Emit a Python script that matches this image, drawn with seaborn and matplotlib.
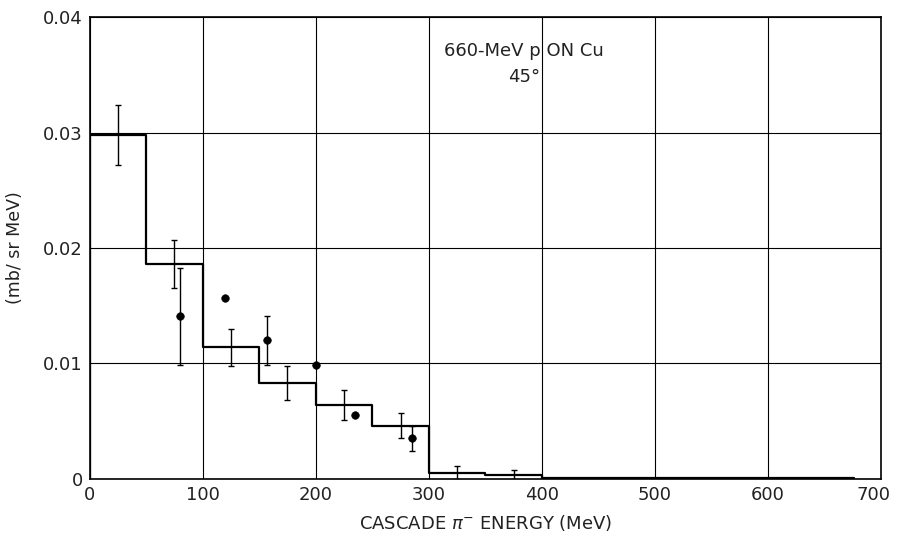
import matplotlib
matplotlib.use("Agg")
import matplotlib.pyplot as plt
import matplotlib.transforms as mtransforms
import seaborn as sns
import numpy as np
import pandas as pd

# Calculated cascade histogram (bin edges in MeV, heights in mb/sr MeV)
bin_edges = [0, 50, 100, 150, 200, 250, 300, 350, 400, 676]
bin_heights = [0.0298, 0.0186, 0.0114, 0.0083, 0.0064, 0.0046, 0.0005, 0.0003, 0.0001]

# Statistical error bars on the histogram (at bin centers)
hist_err_x = [25, 75, 125, 175, 225, 275, 325, 375]
hist_err_y = [0.0298, 0.0186, 0.0114, 0.0083, 0.0064, 0.0046, 0.0005, 0.0003]
hist_err = [0.0026, 0.0021, 0.0016, 0.0015, 0.0013, 0.0011, 0.0006, 0.0005]

# Experimental points
exp_x = [80, 120, 157, 200, 235, 285]
exp_y = [0.0141, 0.0157, 0.0120, 0.0099, 0.0055, 0.0035]
exp_err = [0.0042, 0.0, 0.0021, 0.0, 0.0, 0.00105]

x_ticks = [0, 100, 200, 300, 400, 500, 600, 700]
y_ticks = [0, 0.01, 0.02, 0.03, 0.04]
y_tick_labels = ["0", "0.01", "0.02", "0.03", "0.04"]

sns.set_style("white")
plt.rcParams["font.family"] = ["DejaVu Sans"]

fig = plt.figure(figsize=(8.97, 5.38), dpi=100)
ax = fig.add_axes([0.100, 0.110, 0.882, 0.858])

# Step histogram
step_df = pd.DataFrame({"E": bin_edges, "v": bin_heights + [bin_heights[-1]]})
sns.lineplot(data=step_df, x="E", y="v", drawstyle="steps-post", color="black",
             linewidth=1.6, ax=ax, zorder=3)
# vertical rise at x=0
ax.vlines(bin_edges[0], 0, bin_heights[0], color="black", linewidth=1.6, zorder=3)

# Histogram error bars
ax.errorbar(hist_err_x, hist_err_y, yerr=hist_err, fmt="none", ecolor="black",
            elinewidth=1.0, capsize=2.5, capthick=1.0, zorder=4)

# Experimental points
exp_df = pd.DataFrame({"E": exp_x, "v": exp_y})
sns.scatterplot(data=exp_df, x="E", y="v", color="black", s=30, edgecolor="black",
                ax=ax, zorder=5)
err_idx = [i for i, e in enumerate(exp_err) if e > 0]
ax.errorbar([exp_x[i] for i in err_idx], [exp_y[i] for i in err_idx],
            yerr=[exp_err[i] for i in err_idx], fmt="none", ecolor="black",
            elinewidth=1.0, capsize=2.5, capthick=1.0, zorder=4)

ax.set_xlim(0, 700)
ax.set_ylim(0, 0.04)
ax.set_xticks(x_ticks)
ax.set_yticks(y_ticks)
ax.set_yticklabels(y_tick_labels)
ax.grid(True, color="black", linewidth=0.8)
ax.set_axisbelow(True)
ax.tick_params(length=0, labelsize=13, pad=5, colors="#222222")
for s in ax.spines.values():
    s.set_color("black")
    s.set_linewidth(1.2)

# nudge the last x tick label left so it stays inside the figure
last = ax.get_xticklabels()[-1]
last.set_transform(last.get_transform() +
                   mtransforms.ScaledTranslation(-0.07, 0, fig.dpi_scale_trans))

ax.set_xlabel("CASCADE $\\pi^{-}$ ENERGY (MeV)", fontsize=13, labelpad=7, color="#222222")
ax.set_ylabel("(mb/ sr MeV)", fontsize=12.5, labelpad=14, color="#222222")

ax.text(384, 0.0371, "660-MeV p ON Cu", ha="center", va="center", fontsize=13,
        color="#222222")
ax.text(384, 0.0348, "45°", ha="center", va="center", fontsize=13, color="#222222")

fig.savefig("out.png", dpi=100)
